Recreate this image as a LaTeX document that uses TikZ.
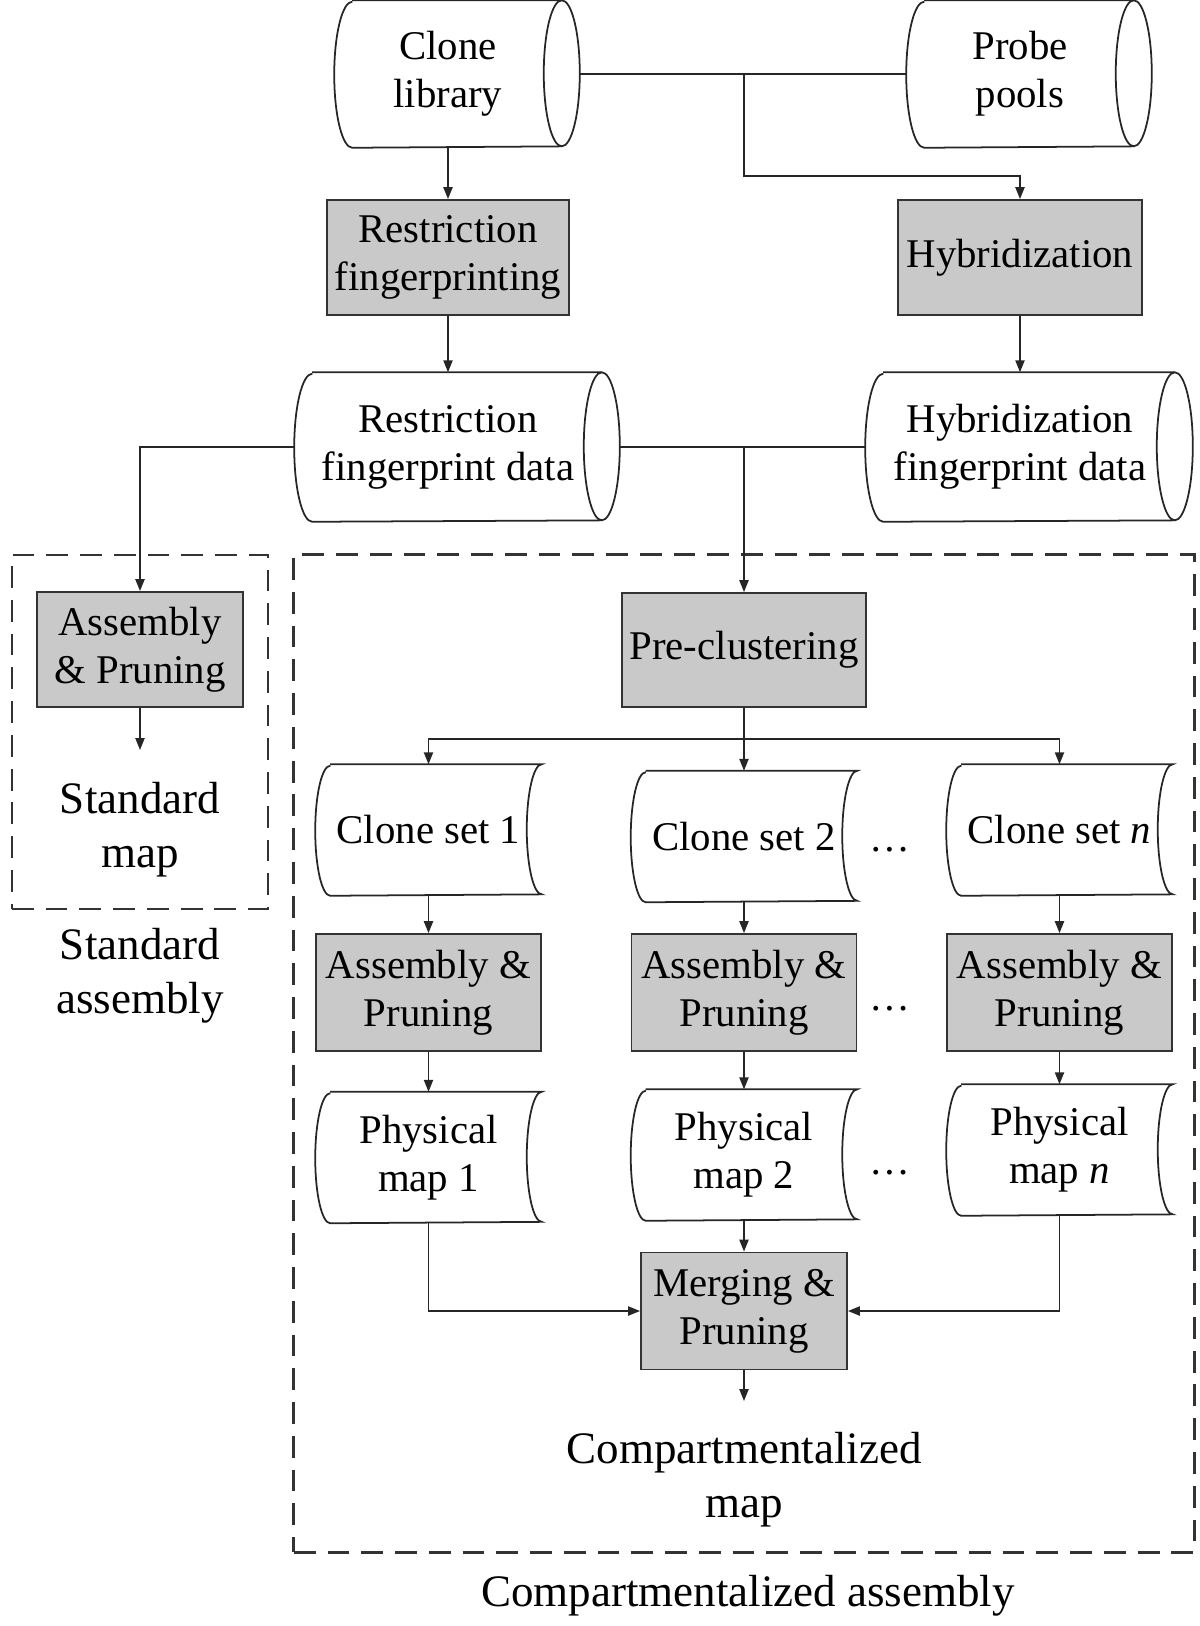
\documentclass[tikz,border=0pt]{standalone}
\usepackage{fontspec}
\setmainfont{Liberation Serif}
\usetikzlibrary{arrows.meta}

% data disk round node #1 (#2 = half height)
\newcommand\drawdisk[2]{%
  \draw[shapeline] (#1.north west) -- ([xshift=0.18cm]#1.north east)
    arc[start angle=90, end angle=-90, x radius=0.18cm, y radius=#2]
    -- (#1.south west)
    arc[start angle=270, end angle=90, x radius=0.18cm, y radius=#2];
  \draw[shapeline] ([xshift=0.18cm]#1.north east)
    arc[start angle=90, end angle=270, x radius=0.18cm, y radius=#2];
  \coordinate (#1-l) at ([xshift=-0.18cm]#1.west);
  \coordinate (#1-r) at ([xshift=0.36cm]#1.east);
}
% stored data sheet round node #1
\newcommand\drawsheet[2]{%
  \draw[shapeline] (#1.north west) -- ([xshift=0.15cm]#1.north east)
    arc[start angle=90, end angle=270, x radius=0.15cm, y radius=#2]
    -- (#1.south west)
    arc[start angle=270, end angle=90, x radius=0.15cm, y radius=#2];
}

\begin{document}
\begin{tikzpicture}[x=0.01cm, y=-0.01cm,
  every node/.style={font=\fontsize{11.6}{13.6}\selectfont, align=center, inner sep=0pt},
  shapeline/.style={draw=black!85, line width=0.5pt},
  proc/.style={draw=black!80, fill=black!21, line width=0.5pt},
  disk/.style={minimum height=1.46cm},
  sheet/.style={minimum width=1.95cm, minimum height=1.30cm},
  bigtext/.style={font=\fontsize{12.8}{15.4}\selectfont},
  groupbox/.style={draw=black!80, dash pattern=on 6.2pt off 3.4pt, line width=0.75pt},
  conn/.style={draw=black!85, line width=0.5pt},
  arr/.style={-{Triangle[length=3.4pt, width=2.6pt]}}]
  \useasboundingbox (0,0) rectangle (1200,1626);

  % sources and fingerprinting
  \node[disk, minimum width=1.90cm] (clonelib) at (448,74) {Clone\\library};
  \node[disk, minimum width=1.90cm] (probes) at (1020,74) {Probe\\pools};
  \node[proc, minimum width=2.42cm, minimum height=1.15cm] (restfp) at (448,257.5) {Restriction\\fingerprinting};
  \node[proc, minimum width=2.44cm, minimum height=1.15cm] (hybfp) at (1020,257.5) {Hybridization};
  \node[disk, minimum width=2.70cm, minimum height=1.48cm] (restdata) at (448,447) {Restriction\\fingerprint data};
  \node[disk, minimum width=2.72cm, minimum height=1.48cm] (hybdata) at (1020,447) {Hybridization\\fingerprint data};
  \drawdisk{clonelib}{0.73cm}
  \drawdisk{probes}{0.73cm}
  \drawdisk{restdata}{0.74cm}
  \drawdisk{hybdata}{0.74cm}

  % standard assembly
  \node[groupbox, minimum width=2.56cm, minimum height=3.54cm] (stdbox) at (140,732) {};
  \node[proc, minimum width=2.06cm, minimum height=1.15cm] (asm0) at (140,649.5) {Assembly\\\& Pruning};
  \coordinate (stdin) at (140,750);
  \node[bigtext] (stdmap) at (140,829.5) {Standard\\map};
  \node[bigtext] (stdname) at (140,975.5) {Standard\\assembly};

  % compartmentalized assembly
  \node[groupbox, minimum width=9.00cm, minimum height=9.97cm] (compbox) at (744,1053.5) {};
  \node[proc, minimum width=2.44cm, minimum height=1.14cm] (preclust) at (744,650) {Pre-clustering};
  \node[sheet] (set1) at (428.5,830) {Clone set 1};
  \node[sheet] (set2) at (744,836.5) {Clone set 2};
  \node[sheet] (setn) at (1059.5,830) {Clone set \textit{n}};
  \node[proc, minimum width=2.25cm, minimum height=1.17cm] (asm1) at (428.5,992.5) {Assembly \&\\Pruning};
  \node[proc, minimum width=2.25cm, minimum height=1.17cm] (asm2) at (744,992.5) {Assembly \&\\Pruning};
  \node[proc, minimum width=2.25cm, minimum height=1.17cm] (asmn) at (1059.5,992.5) {Assembly \&\\Pruning};
  \node[sheet] (map1) at (428.5,1157.5) {Physical\\map 1};
  \node[sheet] (map2) at (744,1155) {Physical\\map 2};
  \node[sheet] (mapn) at (1059.5,1150) {Physical\\map \textit{n}};
  \drawsheet{set1}{0.65cm}
  \drawsheet{set2}{0.65cm}
  \drawsheet{setn}{0.65cm}
  \drawsheet{map1}{0.65cm}
  \drawsheet{map2}{0.65cm}
  \drawsheet{mapn}{0.65cm}
  \node[anchor=base] (dots1) at (890,851) {\dots};
  \node[anchor=base] (dots2) at (890,1010) {\dots};
  \node[anchor=base] (dots3) at (890,1174) {\dots};
  \node[proc, minimum width=2.06cm, minimum height=1.17cm] (merge) at (744,1311) {Merging \&\\Pruning};
  \coordinate (compin) at (744,1401);
  \node[bigtext] (compmap) at (744,1480) {Compartmentalized\\map};
  \node[bigtext, anchor=base] (compname) at (748,1606) {Compartmentalized assembly};

  % connectors
  \draw[conn] (clonelib-r) -- (probes-l);
  \draw[conn, arr] (clonelib-r -| preclust) -- ++(0,102) -| (hybfp.north);
  \draw[conn, arr] (clonelib.south) -- (restfp.north);
  \draw[conn, arr] (restfp.south) -- (restdata.north);
  \draw[conn, arr] (hybfp.south) -- (hybdata.north);
  \draw[conn] (restdata-r) -- (hybdata-l);
  \draw[conn, arr] (restdata-r -| preclust) -- (preclust.north);
  \draw[conn, arr] (restdata-l) -| (asm0.north);
  \draw[conn, arr] (asm0.south) -- (stdin);
  \draw[conn, arr] (preclust.south) -- ++(0,31) -| (set1.north);
  \draw[conn, arr] (preclust.south) -- ++(0,31) -| (setn.north);
  \draw[conn, arr] (preclust.south) -- (set2.north);
  \draw[conn, arr] (set1.south) -- (asm1.north);
  \draw[conn, arr] (set2.south) -- (asm2.north);
  \draw[conn, arr] (setn.south) -- (asmn.north);
  \draw[conn, arr] (asm1.south) -- (map1.north);
  \draw[conn, arr] (asm2.south) -- (map2.north);
  \draw[conn, arr] (asmn.south) -- (mapn.north);
  \draw[conn, arr] (map1.south) |- (merge.west);
  \draw[conn, arr] (mapn.south) |- (merge.east);
  \draw[conn, arr] (map2.south) -- (merge.north);
  \draw[conn, arr] (merge.south) -- (compin);
\end{tikzpicture}
\end{document}
